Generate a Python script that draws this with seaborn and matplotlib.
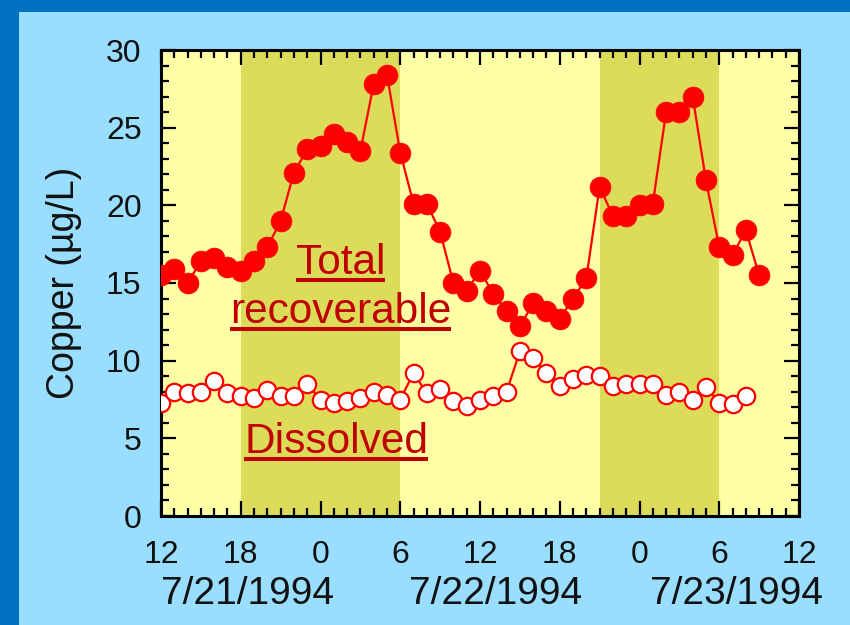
import numpy as np
import pandas as pd
import matplotlib
matplotlib.use("Agg")
import matplotlib.pyplot as plt
from matplotlib.lines import Line2D
from matplotlib.patches import Rectangle
from matplotlib.ticker import MultipleLocator, FixedLocator
import seaborn as sns

# ---- data (hours since 7/21/1994 00:00) ----
total_hours = list(range(12, 58))
total_cu = [15.5, 15.9, 15.0, 16.4, 16.6, 16.0, 15.8, 16.4, 17.3, 19.0,
            22.1, 23.6, 23.8, 24.6, 24.1, 23.5, 27.8, 28.4, 23.4, 20.1,
            20.1, 18.3, 15.0, 14.5, 15.8, 14.3, 13.2, 12.2, 13.7, 13.2,
            12.7, 14.0, 15.3, 21.2, 19.3, 19.3, 20.0, 20.1, 26.0, 26.0,
            27.0, 21.6, 17.3, 16.8, 18.4, 15.5]
diss_hours = list(range(12, 57))
diss_cu = [7.3, 8.0, 7.9, 8.0, 8.7, 7.9, 7.7, 7.6, 8.1, 7.7,
           7.7, 8.5, 7.5, 7.3, 7.4, 7.6, 8.0, 7.8, 7.5, 9.2,
           7.9, 8.2, 7.4, 7.1, 7.5, 7.7, 8.0, 10.6, 10.2, 9.2,
           8.4, 8.8, 9.1, 9.0, 8.4, 8.5, 8.5, 8.5, 7.8, 8.0,
           7.5, 8.3, 7.3, 7.2, 7.7]
night_bands = [(18, 30), (45, 54)]
xtick_pos = [12, 18, 24, 30, 36, 42, 48, 54, 60]
xtick_labels = ["12", "18", "0", "6", "12", "18", "0", "6", "12"]
date_labels = ["7/21/1994", "7/22/1994", "7/23/1994"]
date_pos = [18.5, 37.2, 55.3]

df_total = pd.DataFrame({"hour": total_hours, "cu": total_cu})
df_diss = pd.DataFrame({"hour": diss_hours, "cu": diss_cu})

sns.set_style("ticks")
plt.rcParams["font.family"] = ["Liberation Sans", "DejaVu Sans"]

BG = "#99DDFF"
fig = plt.figure(figsize=(8.5, 6.25), dpi=100, facecolor=BG)
# slide border (top and left)
fig.patches.append(Rectangle((0, 1 - 12 / 625), 1, 12 / 625, transform=fig.transFigure,
                             facecolor="#0070C0", edgecolor="none", zorder=0))
fig.patches.append(Rectangle((0, 0), 19 / 850, 1, transform=fig.transFigure,
                             facecolor="#0070C0", edgecolor="none", zorder=0))

ax = fig.add_axes([161 / 850, 1 - 516 / 625, 638 / 850, 466 / 625])
ax.set_facecolor("#FFFFA6")
for a, b in night_bands:
    ax.axvspan(a, b, color="#DCDC5A", lw=0, zorder=0)

sns.lineplot(data=df_total, x="hour", y="cu", ax=ax, color="#FF0000", lw=1.6,
             marker="o", markersize=15, markerfacecolor="#FF0000",
             markeredgecolor="#FF0000", markeredgewidth=0.5, zorder=3)
sns.lineplot(data=df_diss, x="hour", y="cu", ax=ax, color="#FF0000", lw=1.6,
             marker="o", markersize=12.5, markerfacecolor="white",
             markeredgecolor="#FF0000", markeredgewidth=1.6, zorder=3)

ax.set_xlim(12, 60)
ax.set_ylim(0, 30)
ax.xaxis.set_major_locator(FixedLocator(xtick_pos))
ax.set_xticklabels(xtick_labels)
ax.xaxis.set_minor_locator(MultipleLocator(1))
ax.yaxis.set_major_locator(MultipleLocator(5))
ax.yaxis.set_minor_locator(MultipleLocator(1))
ax.tick_params(which="both", direction="in", top=True, right=True,
               color="black", width=1.6)
ax.tick_params(which="major", length=11, labelsize=23, pad=14, labelcolor="#111111")
ax.tick_params(axis="x", which="major", pad=17)
ax.tick_params(which="minor", length=6)
for s in ax.spines.values():
    s.set_linewidth(2.2)
    s.set_color("black")

ax.set_xlabel("")
ax.set_ylabel("Copper (µg/L)", fontsize=27, color="#111111")
ax.yaxis.set_label_coords(-0.124, 0.5)

# date labels under the hour ticks
trans = ax.get_xaxis_transform()
for p, lab in zip(date_pos, date_labels):
    ax.text(p, -0.189, lab, transform=trans, ha="center", va="baseline",
            fontsize=28, color="#111111")

# in-plot labels, underlined
RED = "#C00000"
t1 = ax.text(25.5, 15.6, "Total", ha="center", va="baseline", fontsize=30.5, color=RED, zorder=4)
t2 = ax.text(25.5, 12.4, "recoverable", ha="center", va="baseline", fontsize=30.5, color=RED, zorder=4)
t3 = ax.text(25.2, 4.06, "Dissolved", ha="center", va="baseline", fontsize=30.5, color=RED, zorder=4)

fig.canvas.draw()
renderer = fig.canvas.get_renderer()
inv = fig.transFigure.inverted()
for t in (t1, t2, t3):
    bb = t.get_window_extent(renderer)
    xb, yb = ax.transData.transform(t.get_position())
    y_ul = yb - 6
    (x0, y0) = inv.transform((bb.x0, y_ul))
    (x1, _) = inv.transform((bb.x1, y_ul))
    fig.lines.append(Line2D([x0, x1], [y0, y0], transform=fig.transFigure,
                            color=RED, lw=2.9, solid_capstyle="butt", zorder=5))

fig.savefig("out.png", dpi=100, facecolor=BG)
